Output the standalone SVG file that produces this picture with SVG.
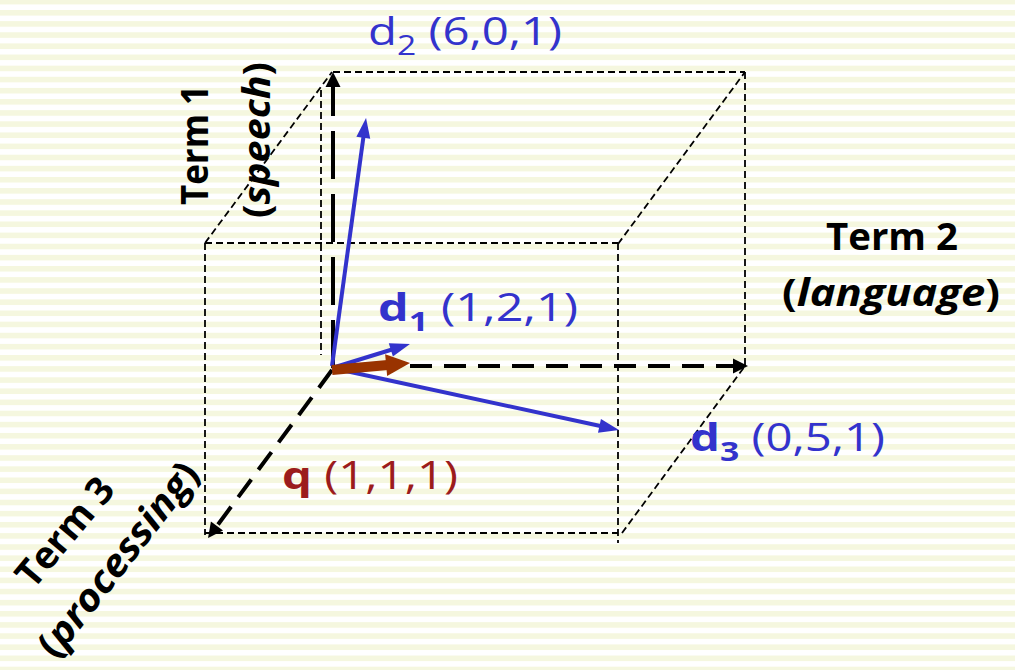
<svg xmlns="http://www.w3.org/2000/svg" width="1015" height="670" viewBox="0 0 1015 670">
  <defs>
    <pattern id="stripes" patternUnits="userSpaceOnUse" x="0" y="-1.13" width="20" height="11.13">
      <rect x="0" y="0" width="20" height="5.6" fill="#f5f7df"/>
    </pattern>
    <marker id="headBlack" markerUnits="userSpaceOnUse" markerWidth="16" markerHeight="16" refX="7" refY="7.5" orient="auto" overflow="visible">
      <path d="M0,0 L15,7.5 L0,15 z" fill="#000" stroke="none"/>
    </marker>
    <marker id="headBlue" markerUnits="userSpaceOnUse" markerWidth="22" markerHeight="16" refX="8" refY="7" orient="auto" overflow="visible">
      <path d="M0,0 L20,7 L0,14 z" fill="#3333cc" stroke="none"/>
    </marker>
    <marker id="headBrown" markerUnits="userSpaceOnUse" markerWidth="26" markerHeight="24" refX="10" refY="11" orient="auto" overflow="visible">
      <path d="M0,0 L24,11 L0,22 z" fill="#993300" stroke="none"/>
    </marker>
  </defs>
  <style>
    .thin { fill: none; stroke: #000; stroke-width: 1.8; stroke-dasharray: 7 4; }
    .axis { fill: none; stroke: #000; stroke-width: 4; stroke-dasharray: 22 12; marker-end: url(#headBlack); }
    .axisv { stroke-dasharray: 48 15; }
    .vec { fill: none; stroke: #3333cc; stroke-width: 4; marker-end: url(#headBlue); }
    .qvec { fill: none; stroke: #993300; stroke-width: 10; marker-end: url(#headBrown); }
    .lbl { font-family: "Open Sans", "Lato", "Liberation Sans", sans-serif; font-size: 38px; }
    .blue { fill: #3333cc; }
    .red { fill: #9c1c1c; }
    .term { fill: #000; font-weight: bold; }
    .sub { font-size: 27px; }
  </style>
  <rect width="1015" height="670" fill="#ffffff"/>
  <rect width="1015" height="670" fill="url(#stripes)"/>

  <g id="box">
    <path class="thin" d="M333,72 H745"/>
    <path class="thin" d="M745,72 V365"/>
    <path class="thin" d="M321,90 V355"/>
    <path class="thin" d="M205,243 L332,72"/>
    <path class="thin" d="M618,244 L745,72"/>
    <path class="thin" d="M622,533 L745,366"/>
    <path class="thin" d="M205,243 H618"/>
    <path class="thin" d="M205,243 V535"/>
    <path class="thin" d="M205,533 H618"/>
    <path class="thin" d="M618,243 V543"/>
  </g>

  <g id="connectors">
    <path class="axis axisv" d="M333,368 L333,80"/>
    <path class="axis" d="M410,366 L740,366"/>
    <path class="axis" d="M332,370 L212.8,531.6"/>
    <path class="vec" d="M332,366 L364.4,129.9"/>
    <path class="vec" d="M332,368 L398.5,347.5"/>
    <path class="vec" d="M332,368 L607.3,427.5"/>
    <path class="qvec" d="M332,370 L396.1,364.2"/>
  </g>

  <g id="d2">
    <text class="lbl blue" x="368" y="45" textLength="194" lengthAdjust="spacingAndGlyphs">d<tspan class="sub" dy="10">2</tspan><tspan dy="-10"> (6,0,1)</tspan></text>
  </g>
  <g id="d1">
    <text class="lbl blue" x="378" y="321" textLength="200" lengthAdjust="spacingAndGlyphs"><tspan font-weight="bold">d</tspan><tspan class="sub" font-weight="bold" dy="10">1</tspan><tspan dy="-10"> (1,2,1)</tspan></text>
  </g>
  <g id="d3">
    <text class="lbl blue" x="690" y="451" textLength="195" lengthAdjust="spacingAndGlyphs"><tspan font-weight="bold">d</tspan><tspan class="sub" font-weight="bold" dy="10">3</tspan><tspan dy="-10"> (0,5,1)</tspan></text>
  </g>
  <g id="q">
    <text class="lbl red" x="282" y="489" textLength="176" lengthAdjust="spacingAndGlyphs"><tspan font-weight="bold">q</tspan> (1,1,1)</text>
  </g>
  <g id="term2">
    <text class="lbl term" x="826" y="250" textLength="132" lengthAdjust="spacingAndGlyphs">Term 2</text>
    <text class="lbl term" x="782" y="306" textLength="218" lengthAdjust="spacingAndGlyphs">(<tspan font-style="italic">language</tspan>)</text>
  </g>
  <g id="term1">
    <text class="lbl term" transform="translate(195,145) rotate(-90)" x="0" y="13" text-anchor="middle" textLength="120" lengthAdjust="spacingAndGlyphs">Term 1</text>
    <text class="lbl term" transform="translate(258,140) rotate(-90)" x="0" y="12" text-anchor="middle" textLength="156" lengthAdjust="spacingAndGlyphs">(<tspan font-style="italic">speech</tspan>)</text>
  </g>
  <g id="term3">
    <text class="lbl term" transform="translate(65,532) rotate(-50)" x="0" y="13" text-anchor="middle" textLength="130" lengthAdjust="spacingAndGlyphs">Term 3</text>
    <text class="lbl term" transform="translate(119,560) rotate(-52)" x="0" y="12" text-anchor="middle" textLength="236" lengthAdjust="spacingAndGlyphs">(<tspan font-style="italic">processing</tspan>)</text>
  </g>
</svg>
